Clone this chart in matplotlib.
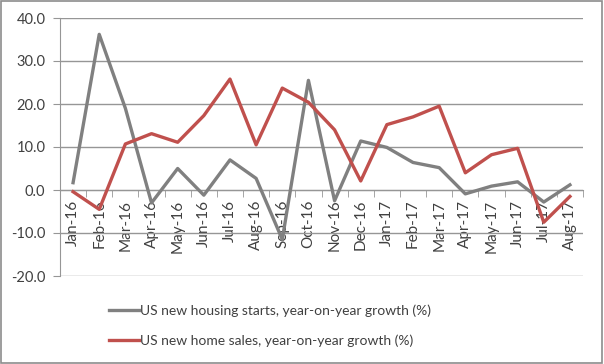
import numpy as np
import matplotlib
matplotlib.use("Agg")
import matplotlib.pyplot as plt
from matplotlib.patches import Rectangle

months = ["Jan-16", "Feb-16", "Mar-16", "Apr-16", "May-16", "Jun-16", "Jul-16",
          "Aug-16", "Sep-16", "Oct-16", "Nov-16", "Dec-16", "Jan-17", "Feb-17",
          "Mar-17", "Apr-17", "May-17", "Jun-17", "Jul-17", "Aug-17"]
starts = [1.7, 36.2, 19.0, -3.0, 5.0, -1.2, 7.0, 2.7, -11.5, 25.5,
          -2.5, 11.4, 9.9, 6.4, 5.2, -0.9, 0.9, 1.9, -2.8, 1.2]
sales = [-0.4, -4.5, 10.7, 13.1, 11.1, 17.3, 25.8, 10.5, 23.7, 20.4,
         14.0, 2.1, 15.2, 17.0, 19.5, 4.0, 8.2, 9.7, -7.5, -1.5]

plt.rcParams['font.family'] = ['Lato', 'DejaVu Sans']

fig = plt.figure(figsize=(6.04, 3.64), dpi=100)
ax = fig.add_axes([60/604, 1-276/364, 523/604, 258/364])

x = np.arange(len(months))
ax.plot(x, starts, color="#808080", lw=2.4, label="US new housing starts, year-on-year growth (%)", zorder=3)
ax.plot(x, sales, color="#c0504d", lw=2.4, label="US new home sales, year-on-year growth (%)", zorder=4)

ax.set_xlim(-0.5, len(months) - 0.5)
ax.set_ylim(-20, 40)
ax.set_yticks(np.arange(-20, 41, 10))
ax.set_yticklabels(["%.1f" % v for v in np.arange(-20, 41, 10)], fontsize=10.5, color="#404040")
ax.yaxis.grid(True, color="#969696", lw=1)
ax.set_axisbelow(True)

for s in ["top", "right"]:
    ax.spines[s].set_visible(False)
ax.spines["left"].set_color("#969696")
ax.spines["bottom"].set_color("#969696")
ax.spines["bottom"].set_position(("data", 0))
ax.tick_params(axis="y", length=5, color="#969696", pad=5.5)

ax.set_xticks(x)
ax.set_xticklabels(months, rotation=90, fontsize=11, color="#404040", va="top")
ax.set_xticks(np.arange(-0.5, len(months), 1), minor=True)
ax.tick_params(axis="x", which="major", length=0, pad=7)
ax.tick_params(axis="x", which="minor", length=5, color="#969696", direction="out")

leg = fig.legend(loc="upper left", bbox_to_anchor=(96/604, 1-292/364), frameon=False,
                 fontsize=10, handlelength=2.2, handletextpad=0.1, labelspacing=1.25,
                 labelcolor="#404040")

fig.patches.append(Rectangle((0.002, 0.003), 0.995, 0.993, transform=fig.transFigure,
                             fill=False, edgecolor="#8c8c8c", lw=1.2))

fig.savefig("out.png", dpi=100)
